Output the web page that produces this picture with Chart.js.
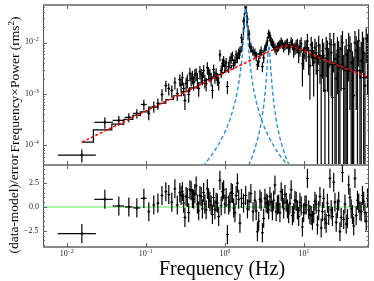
<!DOCTYPE html>
<html>
<head>
<meta charset="utf-8">
<script src="https://cdn.jsdelivr.net/npm/chart.js@4.4.0/dist/chart.umd.min.js"></script>
<style>
  body { margin: 0; background: #fff; }
  #wrap { position: relative; width: 374px; height: 281px; overflow: hidden; font-family: "Liberation Serif", "DejaVu Serif", serif; color: #000; }
  canvas { position: absolute; left: 0; top: 0; }
  .lbl { position: absolute; white-space: nowrap; line-height: 1; }
  .tk { font-size: 8px; color: #222; }
  .tk sup { font-size: 5.5px; vertical-align: 3px; }
  .title { font-size: 13.5px; }
  .xtitle { font-size: 20px; }
</style>
</head>
<body>
<div id="wrap">
  <canvas id="top" width="374" height="281"></canvas>
  <canvas id="bottom" width="374" height="281"></canvas>
</div>
<script>
// frequency bins (Hz)
const freq = [0.0155, 0.0303, 0.0455, 0.0609, 0.0769, 0.0944, 0.109, 0.126, 0.142, 0.160,
  0.179, 0.195, 0.213, 0.233, 0.250, 0.269, 0.279, 0.290, 0.301, 0.312,
  0.323, 0.335, 0.348, 0.361, 0.374, 0.388, 0.402, 0.417, 0.433, 0.449,
  0.466, 0.483, 0.501, 0.519, 0.538, 0.558, 0.579, 0.600, 0.622, 0.646,
  0.670, 0.695, 0.720, 0.747, 0.775, 0.804, 0.834, 0.865, 0.897, 0.930,
  0.964, 1.000, 1.037, 1.076, 1.116, 1.157, 1.200, 1.245, 1.291, 1.339,
  1.388, 1.440, 1.494, 1.549, 1.62, 1.72, 1.83, 1.93, 2.02, 2.13,
  2.27, 2.397, 2.486, 2.578, 2.674, 2.773, 2.876, 2.983, 3.093, 3.208,
  3.327, 3.450, 3.578, 3.711, 3.849, 3.991, 4.139, 4.293, 4.452, 4.617,
  4.788, 4.966, 5.150, 5.341, 5.539, 5.745, 5.958, 6.179, 6.408, 6.646,
  6.893, 7.148, 7.413, 7.688, 7.973, 8.269, 8.576, 8.894, 9.224, 9.566,
  9.921, 10.29, 10.67, 11.07, 11.48, 11.90, 12.34, 12.80, 13.28, 13.77,
  14.28, 14.81, 15.36, 15.93, 16.52, 17.13, 17.77, 18.43, 19.11, 19.82,
  20.56, 21.32, 22.11, 22.93, 23.78, 24.66, 25.58, 26.53, 27.51, 28.53,
  29.59, 30.69, 31.83, 33.01, 34.23, 35.50, 36.82, 38.18, 39.60, 41.07,
  42.59, 44.17, 45.81, 47.51, 49.27, 51.10, 53.00, 54.96, 57.00, 59.11,
  61.30, 63.58];
// frequency x power (rms^2)
const power = [6.4e-5, 2.8e-4, 3.06e-4, 3.5e-4, 4.18e-4, 6.25e-4, 4.18e-4, 5.71e-4, 6.54e-4, 9.77e-4,
  1.46e-3, 1.28e-3, 1.17e-3, 1.67e-3, 1.02e-3, 1.91e-3, 1.53e-3, 2.09e-3, 1.28e-3, 7.48e-4,
  1.60e-3, 1.83e-3, 9.77e-4, 2.50e-3, 2.00e-3, 2.19e-3, 1.67e-3, 2.39e-3, 2.50e-3, 2.00e-3,
  1.28e-3, 2.73e-3, 2.39e-3, 2.09e-3, 2.86e-3, 1.83e-3, 1.60e-3, 3.27e-3, 2.61e-3, 2.39e-3,
  2.00e-3, 1.17e-3, 2.99e-3, 2.19e-3, 2.50e-3, 2.00e-3, 1.67e-3, 5.85e-3, 2.86e-3, 3.91e-3,
  4.47e-3, 3.57e-3, 4.09e-3, 1.40e-3, 3.42e-3, 4.47e-3, 5.11e-3, 5.59e-3, 3.91e-3, 4.47e-3,
  5.85e-3, 5.11e-3, 6.39e-3, 6.99e-3, 1.25e-2, 2.67e-2, 5.0e-2, 2.92e-2, 1.50e-2, 8.36e-3,
  6.99e-3, 6.39e-3, 5.59e-3, 3.74e-3, 4.28e-3, 6.11e-3, 6.99e-3, 3.42e-3, 5.11e-3, 7.64e-3,
  8.75e-3, 1.09e-2, 1.50e-2, 1.37e-2, 1.09e-2, 1.00e-2, 9.15e-3, 8.0e-3, 7.31e-3, 8.36e-3,
  8.75e-3, 9.57e-3, 1.05e-2, 9.57e-3, 8.36e-3, 9.15e-3, 9.57e-3, 1.0e-2, 7.64e-3, 8.36e-3,
  1.05e-2, 9.57e-3, 7.31e-3, 8.0e-3, 8.75e-3, 9.15e-3, 6.39e-3, 8.36e-3, 9.57e-3, 3.91e-3,
  5.59e-3, 8.0e-3, 7.64e-3, 1.09e-2, 5.34e-3, 3.57e-3, 9.15e-3, 6.99e-3, 4.09e-3, 8.0e-3,
  6.39e-3, 2.86e-3, 8.75e-3, 5.59e-3, 2.29e-3, 6.99e-3, 5.59e-3, 1.17e-3, 7.64e-3, 6.11e-3,
  3.42e-3, 9.57e-3, 6.39e-3, 8.55e-4, 9.15e-3, 4.89e-3, 2.00e-3, 6.99e-3, 5.34e-3, 3.27e-3,
  7.64e-3, 1.0e-2, 1.28e-3, 3.27e-3, 5.85e-3, 2.50e-3, 8.75e-3, 6.99e-3, 4.09e-3, 1.83e-3,
  9.35e-4, 1.0e-2, 6.99e-3, 5.11e-3, 1.09e-2, 2.86e-3, 4.47e-3, 9.57e-3, 6.39e-3, 1.46e-3,
  1.20e-2, 8.0e-3];
const powerErr = [1.8e-5, 7e-5, 6.5e-5, 7e-5, 8.5e-5, 1.5e-4, 1.1e-4, 1.4e-4, 1.6e-4, 2.6e-4,
  3.6e-4, 3.4e-4, 3.2e-4, 4.5e-4, 2.8e-4, 5e-4, 4.5e-4, 6.3e-4, 3.8e-4, 2.6e-4,
  4.8e-4, 5.5e-4, 3e-4, 7.5e-4, 6e-4, 6.5e-4, 5e-4, 7e-4, 7e-4, 6e-4,
  4e-4, 8e-4, 7e-4, 6e-4, 8e-4, 5.5e-4, 4.8e-4, 9e-4, 7.5e-4, 7e-4,
  6e-4, 3.5e-4, 8e-4, 6e-4, 7e-4, 5.5e-4, 5e-4, 1.5e-3, 8e-4, 1e-3,
  1.1e-3, 9e-4, 1e-3, 4e-4, 8.5e-4, 1e-3, 1.2e-3, 1.2e-3, 9e-4, 1e-3,
  1.3e-3, 1.1e-3, 1.4e-3, 1.5e-3, 2.5e-3, 5e-3, 8e-3, 5e-3, 3e-3, 1.8e-3,
  1.5e-3, 1.4e-3, 1.2e-3, 8e-4, 9e-4, 1.3e-3, 1.5e-3, 7.5e-4, 1.1e-3, 1.6e-3,
  1.8e-3, 2.2e-3, 3e-3, 2.8e-3, 2.2e-3, 2e-3, 1.9e-3, 1.7e-3, 1.6e-3, 1.8e-3,
  1.9e-3, 2e-3, 2.2e-3, 2e-3, 1.9e-3, 2e-3, 2.1e-3, 2.2e-3, 1.9e-3, 2e-3,
  2.4e-3, 2.3e-3, 2.2e-3, 2.2e-3, 2.6e-3, 2.8e-3, 2.4e-3, 3e-3, 3.2e-3, 2.5e-3,
  2.6e-3, 3.2e-3, 3.4e-3, 4e-3, 3e-3, 2.8e-3, 4e-3, 3.5e-3, 3.2e-3, 4e-3,
  4e-3, 3e-3, 5e-3, 4e-3, 3.5e-3, 5e-3, 4.5e-3, 3.5e-3, 5.5e-3, 5e-3,
  4.5e-3, 6e-3, 5.5e-3, 3.5e-3, 6.5e-3, 5e-3, 4.5e-3, 6e-3, 5.5e-3, 5e-3,
  6.5e-3, 7e-3, 4.5e-3, 5.5e-3, 6e-3, 5e-3, 7e-3, 6.5e-3, 6e-3, 5e-3,
  4.5e-3, 7e-3, 6.5e-3, 6e-3, 7.5e-3, 5.5e-3, 6e-3, 7e-3, 6.5e-3, 5e-3,
  8e-3, 7e-3];
// half widths of the wide low-frequency bins
const freqErr = [0.0078, 0.008, 0.0075, 0.007, 0.008, 0.008];
// (data-model)/error
const resid = [-2.8, 0.8, 0.1, 0.0, -0.1, 0.9, -0.5, 0.2, 0.4, 1.2,
  1.6, 1.3, 0.5, 1.9, 0.2, 1.5, 1.2, 1.6, 0.4, -1.1,
  1.1, 1.0, -0.6, 1.8, 1.7, 0.9, 0.8, 1.4, 2.2, 0.3,
  -0.4, 1.2, 1.1, -0.2, 1.5, 0.3, -0.3, 1.9, 0.9, 0.6,
  0.2, -0.8, 1.0, -0.3, 0.5, 0.4, -1.0, 2.8, 0.1, 1.6,
  1.8, 0.3, 1.0, -2.9, 0.2, 0.5, 1.5, 1.4, -0.1, -0.6,
  1.2, 2.5, 0.8, -1.7, 0.9, 0.4, 1.2, -0.2, 0.6, 1.4,
  -0.5, 0.7, -0.4, -2.6, -1.5, 0.8, 0.6, -2.7, -1.2, 0.9,
  0.4, 0.3, -0.3, 1.1, 0.5, -0.4, 0.7, 2.3, -0.5, 0.2,
  0.3, -0.6, 1.6, 0.9, -0.2, 1.3, 0.5, -0.2, -0.7, 0.4,
  1.8, -0.9, -0.6, 0.7, 0.6, -0.3, -1.0, 0.5, 0.1, -2.1,
  -0.6, 0.2, 0.2, 3.0, -0.3, -0.8, -0.9, -1.4, -0.7, 0.6,
  0.3, -1.9, -0.4, 1.1, -2.2, -0.5, 0.9, -1.3, -1.7, 0.4,
  -0.9, 3.0, -0.3, -1.0, 2.6, 0.5, -1.6, -0.2, 0.6, -2.6,
  -1.1, 3.6, -1.3, 0.3, -1.8, -1.2, 2.3, 1.0, -0.2, -0.8,
  -2.0, 3.0, -0.9, 0.7, 0.4, -0.4, -0.5, 1.2, 0.6, -0.6,
  -1.5, 0.9];

// total model (drawn as steps)
const modelFreq = [0.0155, 0.0303, 0.0455, 0.0609, 0.0769, 0.0944, 0.126, 0.16, 0.2, 0.25, 0.32, 0.4, 0.526, 0.631, 0.736, 0.842,
  0.947, 1.052, 1.157, 1.262, 1.368, 1.473, 1.578, 1.631, 1.683, 1.736, 1.788, 1.83, 1.873, 1.925, 1.999, 2.104, 2.209, 2.314,
  2.525, 2.735, 2.946, 3.156, 3.3, 3.4, 3.5, 3.6, 3.7, 3.8, 3.9, 4.0, 4.2, 4.4, 4.734, 5.26, 5.786, 6.312, 7.08, 8.9, 10,
  15.8, 25.1, 39.8, 66];
const modelTotal = [1.15e-4, 2.0e-4, 2.58e-4, 3.21e-4, 3.82e-4, 4.46e-4, 5.53e-4, 6.61e-4, 7.82e-4, 9.25e-4, 1.11e-3, 1.32e-3, 1.65e-3, 1.91e-3, 2.16e-3, 2.41e-3,
  2.66e-3, 2.93e-3, 3.24e-3, 3.59e-3, 4.09e-3, 4.89e-3, 6.56e-3, 8.33e-3, 1.18e-2, 1.95e-2, 3.77e-2, 5.11e-2, 3.95e-2, 2.15e-2, 1.20e-2, 7.91e-3, 6.64e-3, 6.18e-3,
  6.01e-3, 6.18e-3, 6.51e-3, 7.16e-3, 8.16e-3, 9.66e-3, 1.28e-2, 1.60e-2, 1.34e-2, 1.05e-2, 9.24e-3, 8.59e-3, 8.2e-3, 8.16e-3, 8.28e-3, 8.63e-3, 8.88e-3, 9.01e-3, 8.56e-3, 7.59e-3, 7.08e-3,
  5.05e-3, 3.81e-3, 2.88e-3, 2.09e-3];
// broadband (bending power law) component
const bandFreq = [0.0155, 0.0316, 0.1, 0.316, 1, 2, 3.16, 4.47, 5.62, 6.3, 7.08, 8.9, 10, 15.8, 25.1, 39.8, 66];
const bandPow = [1.15e-4, 1.96e-4, 4.68e-4, 1.10e-3, 2.63e-3, 4.37e-3, 6.17e-3, 7.76e-3, 8.71e-3, 8.91e-3, 8.51e-3, 7.59e-3, 7.08e-3, 5.05e-3, 3.81e-3, 2.88e-3, 2.09e-3];
// QPO lorentzians
const qpo1Freq = [0.526, 0.631, 0.736, 0.842, 0.947, 1.052, 1.157, 1.262, 1.368, 1.473, 1.578, 1.631, 1.683, 1.736, 1.788, 1.83,
  1.873, 1.925, 1.999, 2.104, 2.209, 2.314, 2.525, 2.735, 2.946, 3.156, 3.682, 4.208, 4.734, 5.26, 5.786, 6.312, 6.838];
const qpo1Pow = [3.86e-5, 5.47e-5, 7.66e-5, 1.07e-4, 1.51e-4, 2.15e-4, 3.16e-4, 4.82e-4, 7.80e-4, 1.387e-3, 2.875e-3, 4.55e-3, 7.92e-3, 1.556e-2, 3.37e-2, 4.7e-2,
  3.53e-2, 1.726e-2, 7.53e-3, 3.30e-3, 1.863e-3, 1.211e-3, 6.48e-4, 4.15e-4, 2.95e-4, 2.24e-4, 1.34e-4, 9.3e-5, 7.02e-5, 5.59e-5, 4.62e-5, 3.93e-5, 3.41e-5];
const qpo2Freq = [2.0, 2.2, 2.4, 2.6, 2.8, 3.0, 3.1, 3.2, 3.3, 3.4, 3.5, 3.6, 3.7, 3.8, 3.9, 4.0, 4.2, 4.4, 4.6, 5.0, 5.5, 6.0, 6.5];
const qpo2Pow = [4.07e-5, 5.83e-5, 8.62e-5, 1.337e-4, 2.22e-4, 4.13e-4, 6.01e-4, 9.28e-4, 1.561e-3, 2.93e-3, 5.93e-3, 9.0e-3, 6.27e-3, 3.27e-3, 1.845e-3, 1.16e-3,
  5.79e-4, 3.49e-4, 2.37e-4, 1.325e-4, 7.95e-5, 5.45e-5, 4.05e-5];

const xRange = [0.005, 66.5];
const yRange = [4.1e-5, 0.055];
const residRange = [-4.2, 4.4];
const xTicks = [0.01, 0.1, 1, 10];
const xTickLabels = ['10<sup>−2</sup>', '10<sup>−1</sup>', '10<sup>0</sup>', '10<sup>1</sup>'];
const yTicks = [1e-4, 1e-3, 1e-2];
const yTickLabels = ['10<sup>−4</sup>', '10<sup>−3</sup>', '10<sup>−2</sup>'];
const residTicks = [-2.5, 0, 2.5];
const residTickLabels = ['−2.5', '0.0', '2.5'];
const residMinor = [-4, -3.5, -3, -2, -1.5, -1, -0.5, 0.5, 1, 1.5, 2, 3, 3.5, 4];

function pts(xs, ys) {
  return xs.map((x, i) => ({ x: x, y: ys[i] }));
}

function makeErrorBars(under) {
  function draw(chart) {
    const ctx = chart.ctx, xs = chart.scales.x, ys = chart.scales.y, a = chart.chartArea;
    ctx.save();
    ctx.beginPath();
    ctx.rect(a.left, a.top, a.right - a.left, a.bottom - a.top);
    ctx.clip();
    ctx.strokeStyle = '#000';
    ctx.lineWidth = 1.2;
    chart.data.datasets.forEach(ds => {
      if (!ds.yErr) return;
      ds.data.forEach((p, i) => {
        const px = xs.getPixelForValue(p.x);
        let lo = p.y - ds.yErr[i];
        const hi = p.y + ds.yErr[i];
        if (ys.type === 'logarithmic' && lo < ys.min) lo = ys.min;
        ctx.beginPath();
        ctx.moveTo(px, ys.getPixelForValue(lo));
        ctx.lineTo(px, ys.getPixelForValue(hi));
        ctx.stroke();
        const xe = ds.xErr[i];
        if (xe) {
          const py = ys.getPixelForValue(p.y);
          ctx.beginPath();
          ctx.moveTo(xs.getPixelForValue(p.x - xe), py);
          ctx.lineTo(xs.getPixelForValue(p.x + xe), py);
          ctx.stroke();
        }
      });
    });
    ctx.restore();
  }
  return {
    id: 'errorBars',
    beforeDatasetsDraw(chart) { if (under) draw(chart); },
    afterDatasetsDraw(chart) { if (!under) draw(chart); }
  };
}

// frame and inward ticks
function makeFrame(yMajor, yMinor, topEdge) {
  return {
    id: 'frame',
    afterDraw(chart) {
      const ctx = chart.ctx, a = chart.chartArea, xs = chart.scales.x, ys = chart.scales.y;
      ctx.save();
      ctx.strokeStyle = '#8a8a8a';
      ctx.lineWidth = 2;
      ctx.beginPath();
      if (topEdge) { ctx.moveTo(a.left, a.top); ctx.lineTo(a.right, a.top); }
      ctx.moveTo(a.left, a.bottom); ctx.lineTo(a.right, a.bottom);
      ctx.stroke();
      ctx.strokeStyle = '#555';
      ctx.lineWidth = 1;
      ctx.beginPath();
      ctx.moveTo(a.left + 0.5, a.top); ctx.lineTo(a.left + 0.5, a.bottom);
      ctx.moveTo(a.right - 0.5, a.top); ctx.lineTo(a.right - 0.5, a.bottom);
      ctx.stroke();
      ctx.strokeStyle = '#666';
      ctx.beginPath();
      xTicks.forEach(v => {
        const px = Math.round(xs.getPixelForValue(v)) + 0.5;
        ctx.moveTo(px, a.top); ctx.lineTo(px, a.top + 4);
        ctx.moveTo(px, a.bottom); ctx.lineTo(px, a.bottom - 4);
      });
      yMajor.forEach(v => {
        const py = Math.round(ys.getPixelForValue(v)) + 0.5;
        ctx.moveTo(a.left, py); ctx.lineTo(a.left + 4, py);
        ctx.moveTo(a.right, py); ctx.lineTo(a.right - 4, py);
      });
      yMinor.forEach(v => {
        const py = ys.getPixelForValue(v);
        if (py < a.top || py > a.bottom) return;
        const q = Math.round(py) + 0.5;
        ctx.moveTo(a.left, q); ctx.lineTo(a.left + 2, q);
        ctx.moveTo(a.right, q); ctx.lineTo(a.right - 2, q);
      });
      ctx.stroke();
      ctx.restore();
    }
  };
}

const logMinor = [];
[1e-5, 1e-4, 1e-3, 1e-2].forEach(d => { for (let k = 2; k <= 9; k++) logMinor.push(k * d); });

const topChart = new Chart(document.getElementById('top'), {
  type: 'scatter',
  data: {
    datasets: [
      { data: pts(bandFreq, bandPow), showLine: true, borderColor: '#ff0000', borderWidth: 1.5, borderDash: [3, 2], pointRadius: 0, order: 0 },
      { data: pts(qpo1Freq, qpo1Pow), showLine: true, borderColor: '#1f8ad6', borderWidth: 1.3, borderDash: [4, 2.5], pointRadius: 0, order: 1 },
      { data: pts(qpo2Freq, qpo2Pow), showLine: true, borderColor: '#1f8ad6', borderWidth: 1.3, borderDash: [4, 2.5], pointRadius: 0, order: 2 },
      { data: pts(modelFreq, modelTotal), showLine: true, stepped: 'middle', borderColor: '#000', borderWidth: 1.2, pointRadius: 0, order: 3 },
      { data: pts(freq, power), yErr: powerErr, xErr: freqErr, pointStyle: 'cross', pointRadius: 1.5, borderColor: '#000', borderWidth: 1, order: 4 }
    ]
  },
  options: {
    responsive: false,
    animation: false,
    devicePixelRatio: 1,
    layout: { padding: { left: 43, right: 4, top: 4, bottom: 116 } },
    plugins: { legend: { display: false }, tooltip: { enabled: false } },
    scales: {
      x: { type: 'logarithmic', min: xRange[0], max: xRange[1], display: false },
      y: { type: 'logarithmic', min: yRange[0], max: yRange[1], display: false }
    }
  },
  plugins: [makeErrorBars(true), makeFrame(yTicks, logMinor, true)]
});

const bottomChart = new Chart(document.getElementById('bottom'), {
  type: 'scatter',
  data: {
    datasets: [
      { data: pts(xRange, [0, 0]), showLine: true, borderColor: '#90ee90', borderWidth: 1.5, pointRadius: 0 },
      { data: pts(freq, resid), yErr: resid.map(() => 1), xErr: freqErr, pointStyle: 'cross', pointRadius: 1.5, borderColor: '#000', borderWidth: 1 }
    ]
  },
  options: {
    responsive: false,
    animation: false,
    devicePixelRatio: 1,
    layout: { padding: { left: 43, right: 4, top: 165, bottom: 34 } },
    plugins: { legend: { display: false }, tooltip: { enabled: false } },
    scales: {
      x: { type: 'logarithmic', min: xRange[0], max: xRange[1], display: false },
      y: { type: 'linear', min: residRange[0], max: residRange[1], display: false }
    }
  },
  plugins: [makeErrorBars(false), makeFrame(residTicks, residMinor, false)]
});

// tick labels and axis titles as text
const wrap = document.getElementById('wrap');
function addLabel(html, cls, x, y, align, valign, rotate) {
  const d = document.createElement('div');
  d.className = 'lbl ' + cls;
  d.innerHTML = html;
  wrap.appendChild(d);
  const w = d.offsetWidth, h = d.offsetHeight;
  const left = align === 'right' ? x - w : align === 'center' ? x - w / 2 : x;
  const top = valign === 'middle' ? y - h / 2 : y;
  d.style.left = left + 'px';
  d.style.top = top + 'px';
  if (rotate) d.style.transform = 'rotate(-90deg)';
  return d;
}
yTicks.forEach((v, i) => addLabel(yTickLabels[i], 'tk', 39, topChart.scales.y.getPixelForValue(v) - 1, 'right', 'middle'));
residTicks.forEach((v, i) => addLabel(residTickLabels[i], 'tk', 39, bottomChart.scales.y.getPixelForValue(v), 'right', 'middle'));
xTicks.forEach((v, i) => addLabel(xTickLabels[i], 'tk', bottomChart.scales.x.getPixelForValue(v), 249, 'center', 'top'));

addLabel('Frequency (Hz)', 'xtitle', 222, 268, 'center', 'middle');
addLabel('Frequency×Power (rms<sup style="font-size:9px">2</sup>)', 'title', 14, 84.5, 'center', 'middle', true);
addLabel('(data-model)/error', 'title', 14, 204, 'center', 'middle', true);
</script>
</body>
</html>
